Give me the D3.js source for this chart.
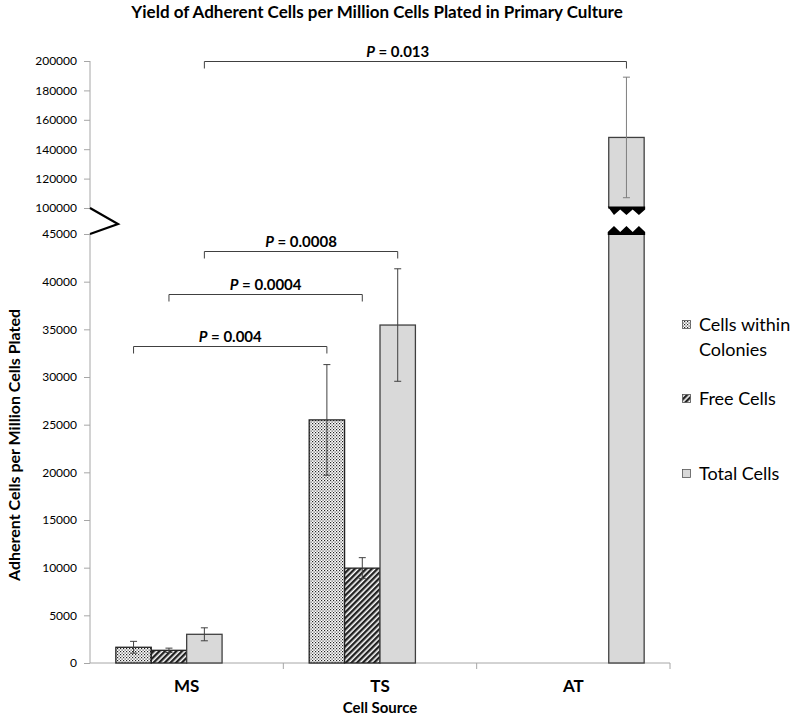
<!DOCTYPE html>
<meta charset="utf-8">
<style>
body, html { margin: 0; background: #fff; }
text { font-family: Lato, "Open Sans", sans-serif; fill: #000; }
.axis path, .axis line { stroke: #a6a6a6; }
</style>
<svg width="800" height="717"></svg>
<script src="https://d3js.org/d3.v7.min.js"></script>
<script>

// categories and series
var categories = ["MS", "TS", "AT"];
var seriesKeys = ["colonies", "free", "total", "totalAT"];
var seriesNames = ["Cells within Colonies", "Free Cells", "Total Cells"];

var colonies    = [1650, 25500, null];
var coloniesErr = [620, 5800, null];
var freeCells   = [1330, 9950, null];
var freeErr     = [230, 1100, null];
var totalCells  = [3010, 35450, null];
var totalErr    = [680, 5900, null];
var totalAT     = [null, null, 148000];
var totalATErr  = [null, null, 41000];

var lowerTicks = [0, 5000, 10000, 15000, 20000, 25000, 30000, 35000, 40000, 45000];
var upperTicks = [100000, 120000, 140000, 160000, 180000, 200000];

var pLabels  = ["0.004", "0.0004", "0.0008", "0.013"];
var pFrom    = [["MS", "colonies"], ["MS", "free"], ["MS", "total"], ["MS", "total"]];
var pTo      = [["TS", "colonies"], ["TS", "free"], ["TS", "total"], ["AT", "totalAT"]];
var pLevel   = [33250, 38700, 43250, 200000];

var svg = d3.select('svg');

var left = 90, right = 670, bottom = 663;

var x0 = d3.scaleBand().domain(categories).range([left, right]).padding(0);
var x1 = d3.scaleBand().domain(seriesKeys).range([0, x0.bandwidth()]).paddingInner(0).paddingOuter(0.73);

var yLow = d3.scaleLinear().domain([0, 45000]).range([bottom, 234]);
var yUp  = d3.scaleLinear().domain([100000, 200000]).range([208, 61]);

function yAny(v) { return v > 45000 ? yUp(v) : yLow(v); }
function cx(cat, key) { return x0(cat) + x1(key) + x1.bandwidth() / 2; }

// patterns
var defs = svg.append('defs');
var dots = defs.append('pattern').attr('id', 'dots')
  .attr('patternUnits', 'userSpaceOnUse').attr('width', 3).attr('height', 3);
dots.append('rect').attr('width', 3).attr('height', 3).attr('fill', '#fff');
dots.append('rect').attr('x', 0).attr('y', 0).attr('width', 1.2).attr('height', 1.2).attr('fill', '#222');
dots.append('rect').attr('x', 1.5).attr('y', 1.5).attr('width', 1.2).attr('height', 1.2).attr('fill', '#444');

var hatch = defs.append('pattern').attr('id', 'hatch')
  .attr('patternUnits', 'userSpaceOnUse').attr('width', 4).attr('height', 4)
  .attr('patternTransform', 'rotate(45)');
hatch.append('rect').attr('width', 4).attr('height', 4).attr('fill', '#fff');
hatch.append('rect').attr('width', 2.4).attr('height', 4).attr('fill', '#222');

var fills = { colonies: 'url(#dots)', free: 'url(#hatch)', total: '#d9d9d9', totalAT: '#d9d9d9' };

// title
svg.append('text').attr('x', 377).attr('y', 18).attr('text-anchor', 'middle')
  .style('font-size', '17px').style('font-weight', 'bold')
  .text('Yield of Adherent Cells per Million Cells Plated in Primary Culture');

// axes
svg.append('g').attr('class', 'axis').attr('transform', 'translate(' + left + ',0)')
  .call(d3.axisLeft(yLow).tickValues(lowerTicks).tickSize(6).tickPadding(7).tickFormat(d3.format('d')))
  .call(function (g) { g.select('.domain').attr('d', 'M0,' + yLow(45000) + 'V' + bottom); });

svg.append('g').attr('class', 'axis').attr('transform', 'translate(' + left + ',0)')
  .call(d3.axisLeft(yUp).tickValues(upperTicks).tickSize(6).tickPadding(7).tickFormat(d3.format('d')))
  .call(function (g) { g.select('.domain').attr('d', 'M0,' + yUp(200000) + 'V' + yUp(100000)); });

svg.selectAll('.axis .tick text').style('font-size', '12px').style('font-family', 'Lato, sans-serif');

// x axis line and category ticks
var xg = svg.append('g').attr('class', 'axis');
xg.append('line').attr('x1', left).attr('x2', right).attr('y1', bottom).attr('y2', bottom);
xg.selectAll('line.ct').data(categories.slice(1).concat(['end']))
  .enter().append('line').attr('class', 'ct')
  .attr('x1', function (d) { return d === 'end' ? right : x0(d); })
  .attr('x2', function (d) { return d === 'end' ? right : x0(d); })
  .attr('y1', bottom).attr('y2', bottom + 6);

svg.selectAll('text.cat').data(categories).enter().append('text').attr('class', 'cat')
  .attr('x', function (d) { return x0(d) + x0.bandwidth() / 2; })
  .attr('y', 692).attr('text-anchor', 'middle')
  .style('font-size', '17px').style('font-weight', 'bold').text(function (d) { return d; });

svg.append('text').attr('x', 380).attr('y', 713).attr('text-anchor', 'middle')
  .style('font-size', '15px').style('font-weight', 'bold').text('Cell Source');

svg.append('text').attr('transform', 'translate(20,' + 445 + ') rotate(-90)')
  .attr('text-anchor', 'middle').style('font-size', '16px').style('font-weight', 'bold')
  .text('Adherent Cells per Million Cells Plated');

// axis break mark
svg.append('path')
  .attr('d', 'M' + left + ',' + yUp(100000) + 'L' + (left + 28) + ',' + 224 + 'L' + left + ',' + yLow(45000))
  .attr('fill', 'none').attr('stroke', '#000').attr('stroke-width', 2.2);

// bars
var rows = [];
categories.forEach(function (c, i) {
  var vals = [colonies[i], freeCells[i], totalCells[i], totalAT[i]];
  var errs = [coloniesErr[i], freeErr[i], totalErr[i], totalATErr[i]];
  seriesKeys.forEach(function (k, j) {
    if (vals[j] != null) rows.push({ cat: c, key: k, value: vals[j], err: errs[j] });
  });
});

var bars = svg.append('g');
rows.forEach(function (d) {
  var bx = x0(d.cat) + x1(d.key), bw = x1.bandwidth();
  var stroke = (d.key === 'total' || d.key === 'totalAT') ? '#404040' : '#222';
  if (d.value <= 45000) {
    bars.append('rect').attr('x', bx).attr('y', yLow(d.value)).attr('width', bw)
      .attr('height', bottom - yLow(d.value)).attr('fill', fills[d.key])
      .attr('stroke', stroke).attr('stroke-width', 1.3);
  } else {
    // broken bar: lower piece up to the axis break, upper piece from 100000
    bars.append('rect').attr('x', bx).attr('y', yLow(45000)).attr('width', bw)
      .attr('height', bottom - yLow(45000)).attr('fill', fills[d.key])
      .attr('stroke', stroke).attr('stroke-width', 1.3);
    bars.append('rect').attr('x', bx).attr('y', yUp(d.value)).attr('width', bw)
      .attr('height', yUp(100000) - yUp(d.value)).attr('fill', fills[d.key])
      .attr('stroke', stroke).attr('stroke-width', 1.3);
    var n = 3, tw = (bw + 2) / n, zx = bx - 1;
    var top = yUp(100000) - 1.5, pts = [[zx, top]];
    for (var t = 0; t < n; t++) {
      pts.push([zx + tw * t + tw / 2, top + 8.5]);
      pts.push([zx + tw * (t + 1), top + 3]);
    }
    pts.push([zx + bw + 2, top]);
    bars.append('path').attr('d', 'M' + pts.map(function (p) { return p.join(','); }).join('L') + 'Z').attr('fill', '#000');
    var bot = yLow(45000) + 1, pts2 = [[zx, bot]];
    for (var u = 0; u < n; u++) {
      pts2.push([zx + tw * u, bot - 3]);
      pts2.push([zx + tw * u + tw / 2, bot - 9]);
    }
    pts2.push([zx + bw + 2, bot - 3]);
    pts2.push([zx + bw + 2, bot]);
    bars.append('path').attr('d', 'M' + pts2.map(function (p) { return p.join(','); }).join('L') + 'Z').attr('fill', '#000');
  }
});

// error bars
var eb = svg.append('g');
rows.forEach(function (d) {
  var x = cx(d.cat, d.key);
  var col = d.key === 'totalAT' ? '#7f7f7f' : '#404040';
  var y1 = yAny(d.value - d.err), y2 = yAny(d.value + d.err);
  eb.append('line').attr('x1', x).attr('x2', x).attr('y1', y1).attr('y2', y2).attr('stroke', col);
  [y1, y2].forEach(function (yy) {
    eb.append('line').attr('x1', x - 3.5).attr('x2', x + 3.5).attr('y1', yy).attr('y2', yy).attr('stroke', col);
  });
});

// significance brackets
var br = svg.append('g');
pLabels.forEach(function (lab, i) {
  var xa = cx(pFrom[i][0], pFrom[i][1]), xb = cx(pTo[i][0], pTo[i][1]);
  var yy = Math.round(yAny(pLevel[i])) + 0.5;
  br.append('path').attr('d', 'M' + xa + ',' + (yy + 7) + 'V' + yy + 'H' + xb + 'V' + (yy + 7))
    .attr('fill', 'none').attr('stroke', '#404040').attr('stroke-width', 1);
  // the widest bracket has its label over the TS total bar
  var tx = i === 3 ? cx('TS', 'total') : (xa + xb) / 2;
  var t = br.append('text').attr('x', tx).attr('y', yy - 5).attr('text-anchor', 'middle')
    .style('font-size', '15px').style('font-weight', 'bold');
  t.append('tspan').style('font-style', 'italic').text('P');
  t.append('tspan').text(' = ' + lab);
});

// legend
var lg = svg.append('g');
var legY = [325, 399, 474];
seriesNames.forEach(function (name, i) {
  var key = seriesKeys[i];
  lg.append('rect').attr('x', 682.5).attr('y', legY[i] - 4.5).attr('width', 8).attr('height', 8)
    .attr('fill', fills[key]).attr('stroke', '#555').attr('stroke-width', 0.8);
  var words = name === 'Cells within Colonies' ? ['Cells within', 'Colonies'] : [name];
  words.forEach(function (w, k) {
    lg.append('text').attr('x', 699).attr('y', legY[i] + 6 + k * 25)
      .style('font-size', '18px').text(w);
  });
});

</script>
